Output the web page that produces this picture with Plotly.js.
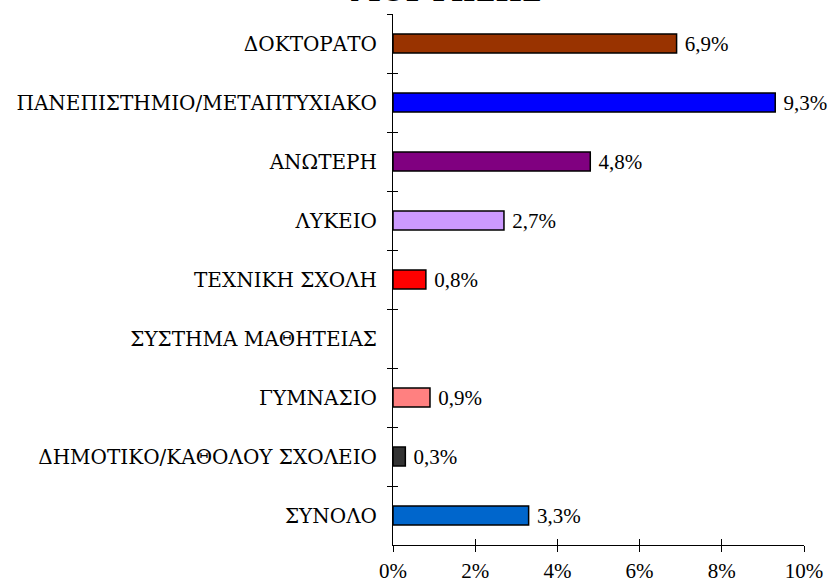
<!DOCTYPE html>
<html>
<head>
<meta charset="utf-8">
<script src="https://cdn.plot.ly/plotly-3.0.1.min.js"></script>
<style>
  html, body { margin: 0; padding: 0; background: #fff; }
  #chart { width: 834px; height: 584px; }
</style>
</head>
<body>
<div id="chart"></div>
<script>
// Data (top to bottom as in the reference)
var categories = [
  "ΔΟΚΤΟΡΑΤΟ",
  "ΠΑΝΕΠΙΣΤΗΜΙΟ/ΜΕΤΑΠΤΥΧΙΑΚΟ",
  "ΑΝΩΤΕΡΗ",
  "ΛΥΚΕΙΟ",
  "ΤΕΧΝΙΚΗ ΣΧΟΛΗ",
  "ΣΥΣΤΗΜΑ ΜΑΘΗΤΕΙΑΣ",
  "ΓΥΜΝΑΣΙΟ",
  "ΔΗΜΟΤΙΚΟ/ΚΑΘΟΛΟΥ ΣΧΟΛΕΙΟ",
  "ΣΥΝΟΛΟ"
];
var values = [6.9, 9.3, 4.8, 2.7, 0.8, null, 0.9, 0.3, 3.3];
var barColors = ["#993300", "#0000FF", "#800080", "#CC99FF", "#FF0000", "#FFFFFF", "#FF8080", "#333333", "#0066CC"];
var xTickVals = [0, 2, 4, 6, 8, 10];
var xTickText = ["0%", "2%", "4%", "6%", "8%", "10%"];
var titleText = "ΜΟΡΦΩΣΗΣ";

var FONT = "'Liberation Serif', 'DejaVu Serif', serif";
var GREEK_FONT = "'DejaVu Serif', serif";

var labels = values.map(function (v) {
  return (v === null) ? "" : "\u00a0" + v.toFixed(1).replace(".", ",") + "%";
});

var main = {
  type: "bar",
  orientation: "h",
  y: categories,
  x: values,
  width: 0.32,
  marker: { color: barColors, line: { color: "#000000", width: 1.5 } },
  text: labels,
  textposition: "outside",
  constraintext: "none",
  textfont: { family: FONT, size: 21, color: "#000" },
  cliponaxis: false,
  hoverinfo: "skip",
  showlegend: false
};

// Invisible copy on overlay axes to draw the inner half of the crossing ticks
var ghost = {
  type: "bar",
  orientation: "h",
  y: categories,
  x: values,
  xaxis: "x2",
  yaxis: "y2",
  opacity: 0,
  width: 0.32,
  hoverinfo: "skip",
  showlegend: false
};

var range = [categories.length - 0.5, -0.5];

var layout = {
  width: 834,
  height: 584,
  margin: { l: 393, r: 30, t: 14, b: 39 },
  paper_bgcolor: "#fff",
  plot_bgcolor: "#fff",
  font: { family: FONT, size: 19, color: "#000" },
  xaxis: {
    range: [0, 10],
    tickvals: xTickVals,
    ticktext: xTickText,
    ticks: "outside",
    ticklen: 6,
    tickwidth: 1,
    tickcolor: "#000",
    showline: true,
    linecolor: "#000",
    linewidth: 1,
    showgrid: false,
    zeroline: false,
    ticklabelstandoff: 1,
    tickfont: { family: FONT, size: 21, color: "#000" },
    fixedrange: true
  },
  xaxis2: {
    overlaying: "x",
    anchor: "y",
    side: "bottom",
    range: [0, 10],
    tickvals: xTickVals,
    ticks: "inside",
    ticklen: 6,
    tickwidth: 1,
    tickcolor: "#000",
    showticklabels: false,
    showline: false,
    showgrid: false,
    zeroline: false
  },
  yaxis: {
    type: "category",
    categoryorder: "array",
    categoryarray: categories,
    range: range,
    ticks: "outside",
    tickson: "boundaries",
    ticklen: 5,
    tickwidth: 1,
    tickcolor: "#000",
    showline: true,
    linecolor: "#000",
    linewidth: 1,
    showgrid: false,
    zeroline: false,
    ticklabelstandoff: 11,
    tickfont: { family: GREEK_FONT, size: 20, color: "#000" },
    fixedrange: true
  },
  yaxis2: {
    type: "category",
    overlaying: "y",
    anchor: "x",
    side: "left",
    categoryorder: "array",
    categoryarray: categories,
    range: range,
    ticks: "inside",
    tickson: "boundaries",
    ticklen: 5,
    tickwidth: 1,
    tickcolor: "#000",
    showticklabels: false,
    showline: false,
    showgrid: false,
    zeroline: false
  },
  annotations: [{
    text: "<b>" + titleText + "</b>",
    xref: "paper", yref: "paper",
    x: 0.129, y: 1,
    xanchor: "center", yanchor: "bottom",
    yshift: 3.5,
    showarrow: false,
    font: { family: GREEK_FONT, size: 28, color: "#000" }
  }]
};

Plotly.newPlot("chart", [main, ghost], layout, { displayModeBar: false, staticPlot: true });
</script>
</body>
</html>
